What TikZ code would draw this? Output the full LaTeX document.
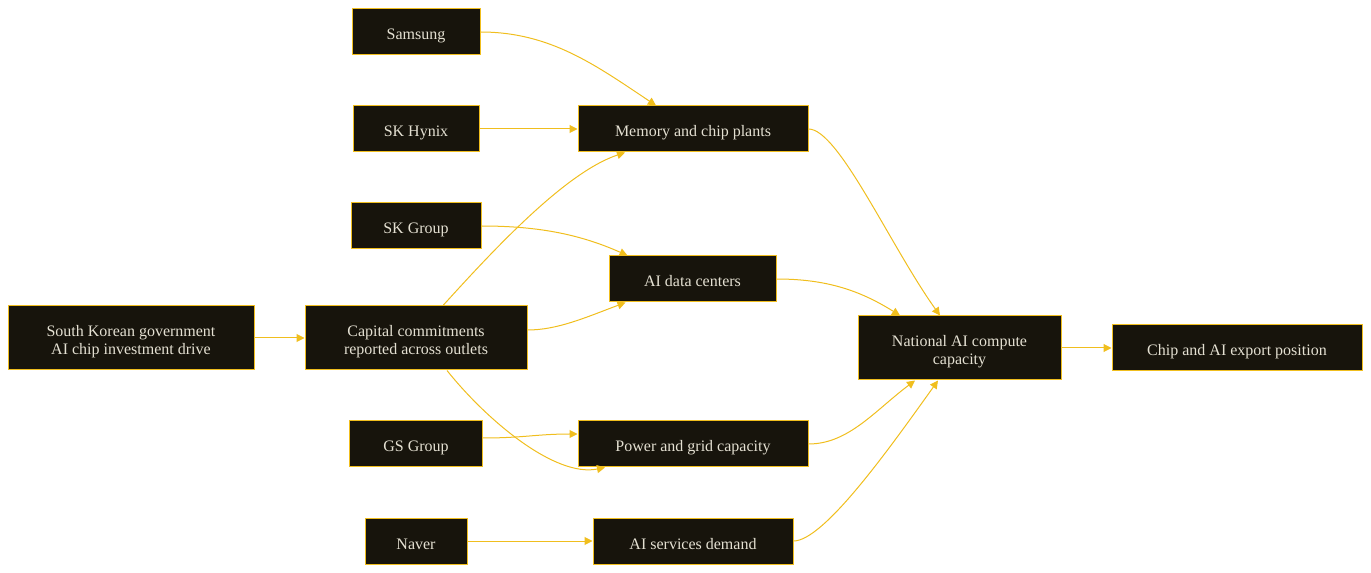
\documentclass[tikz,border=0pt]{standalone}
\usepackage{fontspec}
\setmainfont{Liberation Serif}
\usepackage{xcolor}
\usetikzlibrary{calc,arrows.meta}
\definecolor{boxbg}{HTML}{17140C}
\definecolor{gold}{HTML}{F0BE1E}
\definecolor{boxtxt}{HTML}{E4E0D2}

\begin{document}
\begin{tikzpicture}[x=0.75pt,y=0.75pt,
    box/.style={draw=gold,fill=boxbg,text=boxtxt,line width=0.75pt,inner sep=0pt,
      minimum height=34.5pt,text height=13pt,text depth=1pt,align=center,
      font=\fontsize{12pt}{13.5pt}\selectfont},
    tall/.style={minimum height=48pt,text height=26pt,text depth=1.5pt},
    link/.style={draw=gold,line width=0.75pt,-{Triangle[length=6pt,width=6pt]}}]
  \useasboundingbox (0,0) rectangle (1371,-573);
  % sources (left column)
  \node[box,tall,minimum width=184.5pt] (gov) at (131,-338) {South Korean government\\AI chip investment drive};
  \node[box,tall,minimum width=166.5pt] (cap) at (416,-338) {Capital commitments\\reported across outlets};
  \node[box,minimum width=96pt] (sam) at (416,-32) {Samsung};
  \node[box,minimum width=94.5pt] (hyn) at (416,-129) {SK Hynix};
  \node[box,minimum width=97.5pt] (skg) at (416,-226) {SK Group};
  \node[box,minimum width=99.75pt] (gsg) at (416,-444) {GS Group};
  \node[box,minimum width=76.5pt] (nav) at (416,-541) {Naver};
  % middle column
  \node[box,minimum width=172.5pt] (mem) at (693,-129) {Memory and chip plants};
  \node[box,minimum width=125.25pt] (adc) at (692.5,-279) {AI data centers};
  \node[box,minimum width=172.5pt] (pow) at (693,-444) {Power and grid capacity};
  \node[box,minimum width=150pt] (srv) at (693,-541) {AI services demand};
  % outcome
  \node[box,tall,minimum width=152.25pt] (nat) at (959.5,-348) {National AI compute\\capacity};
  \node[box,minimum width=187.5pt] (exp) at (1237,-348) {Chip and AI export position};
  % straight links
  \draw[link] (gov) -- (cap);
  \draw[link] (hyn) -- (mem);
  \draw[link] (nav) -- (srv);
  \draw[link] (nat) -- (exp);
  % curved links
  \draw[link] (sam.east) .. controls +(70,0) and +(-60,40) .. ($(mem.north)+(-37,0)$);
  \draw[link] ($(cap.north)+(27,0)$) .. controls +(50,55) and +(-60,-20) .. ($(mem.south)+(-68,0)$);
  \draw[link] (skg.east) .. controls +(60,0) and +(-45,20) .. ($(adc.north)+(-65,0)$);
  \draw[link] ($(cap.east)+(0,8)$) .. controls +(30,0) and +(-40,-15) .. ($(adc.south)+(-67,0)$);
  \draw[link] ($(cap.south)+(31,0)$) .. controls +(40,-50) and +(-50,-10) .. ($(pow.south)+(-88,0)$);
  \draw[link] ($(gsg.east)+(0,6)$) .. controls +(40,0) and +(-40,0) .. ($(pow.west)+(0,10)$);
  \draw[link] (mem.east) .. controls +(30,0) and +(-50,70) .. ($(nat.north)+(-19.5,0)$);
  \draw[link] (adc.east) .. controls +(50,0) and +(-40,25) .. ($(nat.north)+(-59.5,0)$);
  \draw[link] (pow.east) .. controls +(40,0) and +(-40,-30) .. ($(nat.south)+(-44.5,0)$);
  \draw[link] (srv.east) .. controls +(30,0) and +(-50,-70) .. ($(nat.south)+(-21.5,0)$);
\end{tikzpicture}
\end{document}
